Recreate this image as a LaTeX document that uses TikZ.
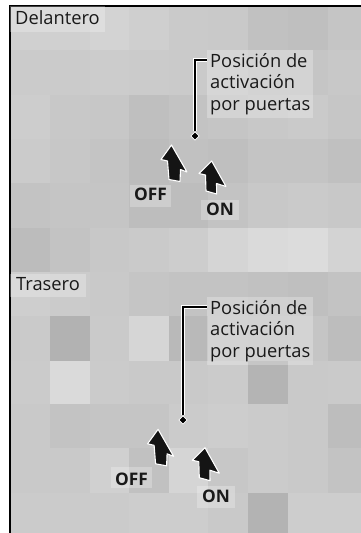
\documentclass[tikz,border=0pt]{standalone}
\usepackage{fontspec}
\setmainfont{Open Sans}
\usetikzlibrary{calc,shapes.geometric}
\tikzset{
  lbl/.style={fill=white, fill opacity=0.25, text opacity=1, inner sep=0pt, text=black!90,
              font=\fontsize{18.3}{21.7}\selectfont},
  lblb/.style={lbl, font=\fontsize{17.3}{21.7}\selectfont\bfseries},
  leader/.style={line width=1.7pt, black, line join=miter,
                 preaction={draw=white, line width=4pt}},
  tipmark/.style={diamond, fill=black, draw=white, line width=0.8pt, inner sep=0pt, minimum size=8.5pt},
  blockarrow/.style={fill=black!92, draw=white, line width=1.1pt, line join=round}
}
\begin{document}
\begin{tikzpicture}[x=1pt,y=-1pt]
\useasboundingbox (0,0) rectangle (361,533);
\fill[white] (0,0) rectangle (361,533);
% pixelated background
\def\xs{{10,50,90,129,169,208,248,288,328,361}}
\def\ys{{6,50,95,139,183,228,272,316,361,404,448,493,533}}
\foreach \row [count=\r from 0] in {
  {208,208,211,207,202,201,193,191,197},
  {203,203,204,203,202,201,197,197,200},
  {205,200,199,191,195,197,200,202,198},
  {203,199,196,188,193,191,196,196,192},
  {195,197,197,189,189,195,200,202,200},
  {188,195,200,202,205,213,218,220,211},
  {206,203,201,197,195,195,193,191,195},
  {202,178,202,214,185,197,195,197,189},
  {203,218,203,201,201,203,180,201,202},
  {201,195,197,197,203,205,203,201,189},
  {201,201,208,193,213,199,203,201,195},
  {203,203,203,205,205,201,179,205,205}} {
  \foreach \v [count=\c from 0] in \row {
    \pgfmathsetmacro\xa{\xs[\c]}
    \pgfmathsetmacro\xb{\xs[\c+1]}
    \pgfmathsetmacro\ya{\ys[\r]}
    \pgfmathsetmacro\yb{\ys[\r+1]}
    \fill[color={rgb,255:red,\v;green,\v;blue,\v}] (\xa,\ya) rectangle (\xb,\yb);
  }
}
% frame
\draw[line width=1.3pt] (10,533) -- (10,6) -- (361,6);

% ---------- Delantero ----------
\node[lbl, anchor=base west, text height=18pt, text depth=8pt, inner xsep=5pt] (del) at (10,24) {Delantero};
\node[lbl, anchor=north west, align=left, inner xsep=3pt, inner ysep=2.8pt] (pos1) at (207,50)
  {Posición de\\activación\\por puertas};
\node[lblb, anchor=base west, text height=15pt, text depth=7pt, inner xsep=4pt] (off1) at (130,200) {OFF};
\node[lblb, anchor=base west, text height=15pt, text depth=5pt, inner xsep=5pt] (on1) at (201,215) {ON};
\node[tipmark] (dm1) at (195,136) {};
\draw[leader] (dm1.north) |- ([yshift=-10pt]pos1.north west);
\filldraw[blockarrow] (171.5,145) -- (161,159.5) -- (167.5,161) -- (169,179.5) -- (180,181.5)
  -- (180.5,169.5) -- (187,172) -- cycle;
\filldraw[blockarrow] (211.7,161) -- (199,173.5) -- (205.5,175) -- (206,191) -- (216.7,194)
  -- (216.5,183.5) -- (226,186.5) -- cycle;

% ---------- Trasero ----------
\node[lbl, anchor=base west, text height=16pt, text depth=7pt, inner xsep=6pt] (tra) at (10,290) {Trasero};
\node[lbl, anchor=north west, align=left, inner xsep=3pt, inner ysep=2.8pt] (pos2) at (207,297)
  {Posición de\\activación\\por puertas};
\node[lblb, anchor=base west, text height=18pt, text depth=3pt, inner xsep=4pt] (off2) at (111,485) {OFF};
\node[lblb, anchor=base west, text height=16.5pt, text depth=5.5pt, inner xsep=5pt] (on2) at (197,502.3) {ON};
\node[tipmark] (dm2) at (183,420) {};
\draw[leader] (dm2.north) |- ([yshift=-9.7pt]pos2.north west);
\begin{scope}[shift={(-13.4,284.3)}]
\filldraw[blockarrow] (171.5,145) -- (161,159.5) -- (167.5,161) -- (169,179.5) -- (180,181.5)
  -- (180.5,169.5) -- (187,172) -- cycle;
\end{scope}
\begin{scope}[shift={(-6.7,286.7)}]
\filldraw[blockarrow] (211.7,161) -- (199,173.5) -- (205.5,175) -- (206,191) -- (216.7,194)
  -- (216.5,183.5) -- (226,186.5) -- cycle;
\end{scope}
\end{tikzpicture}
\end{document}
